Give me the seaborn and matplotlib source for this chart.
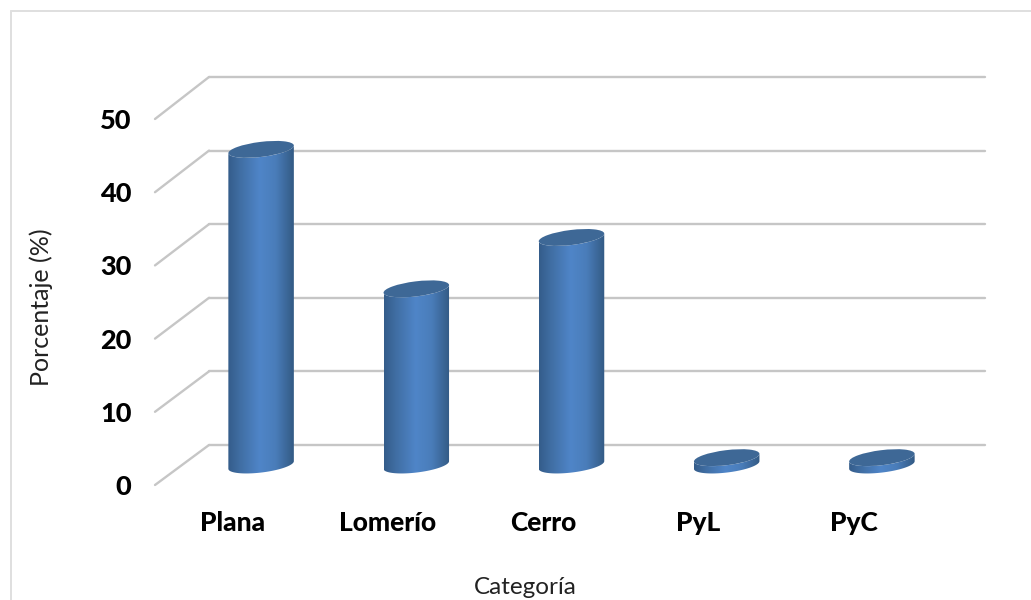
import numpy as np
import pandas as pd
import matplotlib
matplotlib.use("Agg")
import matplotlib.pyplot as plt
import seaborn as sns
from matplotlib.lines import Line2D
from matplotlib.patches import ConnectionPatch, Ellipse, Polygon
from matplotlib.transforms import IdentityTransform
from matplotlib.colors import LinearSegmentedColormap

# Percentage of surface per landform category
categorias = ["Plana", "Lomerío", "Cerro", "PyL", "PyC"]
porcentajes = [43, 24, 31, 1, 1]
marcas_y = [0, 10, 20, 30, 40, 50]

W, H = 1031, 600
DPI = 100
GRID = "#c6c6c6"
CAP = "#3e6896"
BODY = LinearSegmentedColormap.from_list(
    "cilindro",
    [(0.0, "#345c8a"), (0.18, "#406ea3"), (0.48, "#4f85c8"),
     (0.72, "#4a7dba"), (1.0, "#335a84")],
)

sns.set_theme(style="white")
plt.rcParams["font.family"] = ["Lato", "DejaVu Sans"]

fig = plt.figure(figsize=(W / DPI, H / DPI), dpi=DPI, facecolor="white")


def plane(x0, x1, y_bottom, y_top, z):
    """Axes for one depth plane of the chart, given its edges in pixels."""
    ax = fig.add_axes([x0 / W, 1 - y_bottom / H, (x1 - x0) / W, (y_bottom - y_top) / H], zorder=z)
    ax.set_ylim(0, 50)
    ax.set_xlim(-0.5, 4.5)
    ax.patch.set_visible(False)
    sns.despine(ax=ax, left=True, bottom=True)
    return ax


back = plane(209, 985, 445, 77, 0)
front = plane(155, 931, 485, 119, 1)
mid = plane(183.5, 959.5, 465, 98, 2)

# Back wall gridlines and the floor/side diagonals that run towards the viewer
back.set_xticks([])
back.set_yticks(marcas_y)
back.tick_params(left=False, labelleft=False)
for v in marcas_y:
    back.axhline(v, color=GRID, lw=1.7, clip_on=False)
    fig.add_artist(ConnectionPatch(
        xyA=(-0.5, v), coordsA=back.transData,
        xyB=(-0.5, v), coordsB=front.transData,
        color=GRID, lw=1.7))

# Tick labels live on the front plane
front.set_yticks(marcas_y)
front.set_yticklabels([str(v) for v in marcas_y], fontsize=19.5, fontweight="black", color="black")
front.set_xticks(range(len(categorias)))
front.set_xticklabels(categorias, fontsize=19, fontweight="black", color="black")
front.tick_params(axis="y", length=0, pad=17)
front.tick_params(axis="x", length=0, pad=19)
front.set_xlabel("Categoría", fontsize=17.5, color="#222222")
front.set_ylabel("Porcentaje (%)", fontsize=18, color="#222222")
front.xaxis.set_label_coords((525 - 155) / 776, (485 - 587) / 366, transform=front.transAxes)
front.xaxis.label.set_va("center")
front.yaxis.set_label_coords((41 - 155) / 776, (485 - 307) / 366, transform=front.transAxes)
front.yaxis.label.set_va("center")

# Bars come from seaborn; each rectangle is then dressed up as a cylinder
datos = pd.DataFrame({"categoria": categorias, "porcentaje": porcentajes})
sns.barplot(data=datos, x="categoria", y="porcentaje", ax=mid, width=0.425,
            order=categorias, facecolor="none", edgecolor="none", linewidth=0)
mid.set_xlim(-0.5, 4.5)
mid.set_ylim(0, 50)
mid.set_xlabel("")
mid.set_ylabel("")
mid.set_xticks([])
mid.set_yticks([])
sns.despine(ax=mid, left=True, bottom=True)

ANGLE = np.radians(7)
MINOR = 15.0
to_px = mid.transData.transform
gradient = np.linspace(0, 1, 256).reshape(1, -1)

for rect in mid.patches:
    x_c = rect.get_x() + rect.get_width() / 2
    value = rect.get_height()
    left = rect.get_x()
    right = left + rect.get_width()
    major = to_px((right, 0))[0] - to_px((left, 0))[0]
    top_px = to_px((x_c, value))
    base_px = to_px((x_c, 0))

    # Silhouette: the lower half of the base ellipse plus the top ellipse's far side
    a, b = major / 2, MINOR / 2
    t_tan = np.arctan2(-b * np.sin(ANGLE), a * np.cos(ANGLE))
    t = np.linspace(t_tan + np.pi, t_tan + 2 * np.pi, 60)
    ex = a * np.cos(t) * np.cos(ANGLE) - b * np.sin(t) * np.sin(ANGLE)
    ey = a * np.cos(t) * np.sin(ANGLE) + b * np.sin(t) * np.cos(ANGLE)
    lower = np.column_stack([base_px[0] + ex, base_px[1] + ey])
    upper = np.column_stack([top_px[0] + ex[::-1], top_px[1] + ey[::-1]])
    outline = Polygon(np.vstack([lower, upper]), closed=True,
                      transform=IdentityTransform(), facecolor="none", edgecolor="none",
                      clip_on=False)
    mid.add_patch(outline)

    span_px = ex.max() - ex.min()
    half = span_px / 2 / (to_px((1, 0))[0] - to_px((0, 0))[0])
    body = mid.imshow(gradient, cmap=BODY, vmin=0, vmax=1, aspect="auto",
                      extent=[x_c - half, x_c + half, -2, value + 2], zorder=3,
                      interpolation="bilinear")
    # The base ellipse hangs below the axis floor, so the image may not stop at the axes box
    body.set_clip_box(fig.bbox)
    body.set_clip_path(outline)
    mid.add_patch(Ellipse(top_px, major, MINOR, angle=np.degrees(ANGLE),
                          transform=IdentityTransform(), facecolor=CAP,
                          edgecolor="none", zorder=4, clip_on=False))

mid.set_xlim(-0.5, 4.5)
mid.set_ylim(0, 50)

# Chart-area frame, visible along the left and top edges
for xs, ys in [((10.5, 10.5), (0, H - 10.5)), ((10.5, W), (H - 10.5, H - 10.5))]:
    fig.add_artist(Line2D(np.array(xs) / W, np.array(ys) / H, color="#dfdfdf", lw=1.4))

fig.savefig("out.png", dpi=DPI, facecolor="white")
